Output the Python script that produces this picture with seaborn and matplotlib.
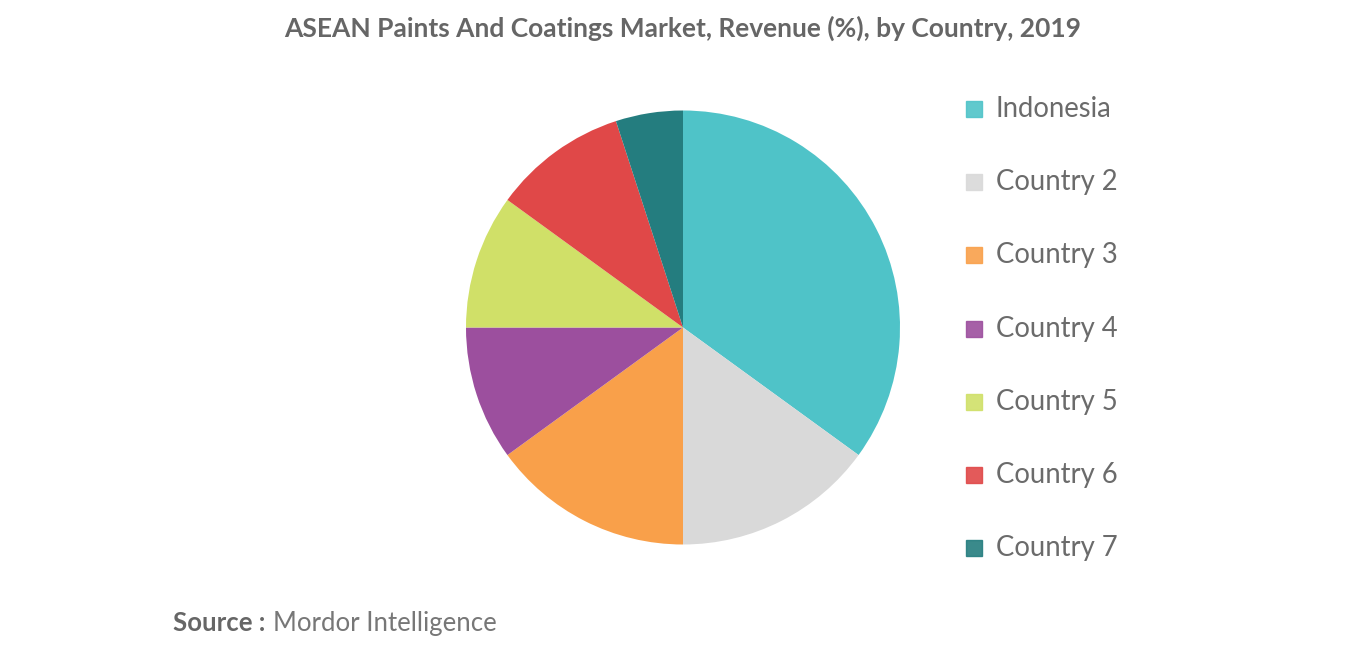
import matplotlib
matplotlib.use("Agg")
import matplotlib.pyplot as plt
import seaborn as sns
from matplotlib.patches import Rectangle

sns.set_theme(style="white")

categories = ["Indonesia", "Country 2", "Country 3", "Country 4", "Country 5", "Country 6", "Country 7"]
values = [35, 15, 15, 10, 10, 10, 5]
colors = ["#4FC3C8", "#D9D9D9", "#F9A04A", "#9C4F9E", "#D0E068", "#E04848", "#247D7F"]

fig = plt.figure(figsize=(13.66, 6.55), dpi=100)
ax = fig.add_axes([0.5 - 434/1366/2, 0.5 - 434/655/2, 434/1366, 434/655])
ax.pie(values, colors=colors, startangle=90, counterclock=False,
       wedgeprops=dict(linewidth=0))
ax.set_xlim(-1, 1)
ax.set_ylim(-1, 1)
ax.set_aspect("equal")

fig.text(0.5, 1 - 28/655, "ASEAN Paints And Coatings Market, Revenue (%), by Country, 2019",
         ha="center", va="center", fontsize=19, fontweight="bold", color="#666666", family="Lato")

for i, (c, col) in enumerate(zip(categories, colors)):
    y = 1 - (109 + i * 73.2) / 655
    fig.patches.append(Rectangle((966/1366, y - 8/655), 16/1366, 16/655,
                                 transform=fig.transFigure, color=col, alpha=0.9))
    fig.text(996/1366, y, c, ha="left", va="center", fontsize=19.8, color="#6b6b6b", family="Lato")

fig.text(173/1366, 1 - 623/655, "Source :", ha="left", va="center", fontsize=18.5,
         fontweight="bold", color="#666666", family="Lato")
fig.text(273/1366, 1 - 623/655, "Mordor Intelligence", ha="left", va="center", fontsize=18.5,
         color="#777777", family="Lato")

fig.savefig("out.png", dpi=100)
